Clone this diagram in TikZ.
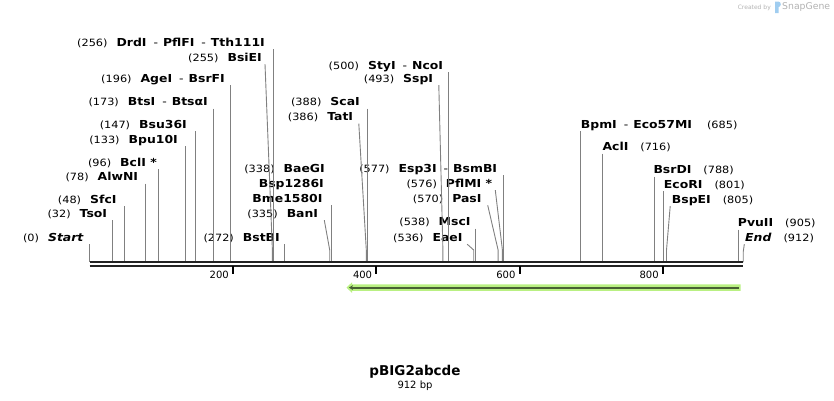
\documentclass[tikz,border=0pt]{standalone}
\usepackage{fontspec}
\setmainfont{DejaVu Sans}
\newfontfamily\labelfont{DejaVu Sans}[FakeStretch=1.13]
\usetikzlibrary{arrows.meta}

\definecolor{linegray}{RGB}{128,128,128}
\definecolor{barblack}{RGB}{34,34,34}
\definecolor{featlight}{RGB}{185,240,130}
\definecolor{featdark}{RGB}{72,96,52}
\definecolor{logogray}{RGB}{178,178,178}
\definecolor{logoblue}{RGB}{160,205,240}

\newcommand{\bpnum}[1]{{\mdseries\fontsize{10}{12}\selectfont(#1)}}
\newcommand{\enzsep}{\hspace{7pt}{\mdseries-}\hspace{5pt}}

\tikzset{
	enz/.style={font=\labelfont\fontsize{11}{13}\selectfont\bfseries, inner sep=0pt, text depth=3pt},
	enzl/.style={enz, anchor=base east},
	enzr/.style={enz, anchor=base west},
	cutline/.style={draw=linegray, line width=0.9pt},
	ticklabel/.style={font=\fontsize{10}{12}\selectfont, inner sep=0pt, anchor=east}
}

\begin{document}
\begin{tikzpicture}[x=1pt, y=-1pt]
	\useasboundingbox (0,0) rectangle (834,400);

	% cut sites on the backbone
	\coordinate (sStart) at (89.7,262);
	\coordinate (sTsoI) at (112.6,262);
	\coordinate (sSfcI) at (124.1,262);
	\coordinate (sAlwNI) at (145.6,262);
	\coordinate (sBclI) at (158.5,262);
	\coordinate (sBpuI) at (185.0,262);
	\coordinate (sBsuI) at (195.0,262);
	\coordinate (sBtsI) at (213.7,262);
	\coordinate (sAgeI) at (230.1,262);
	\coordinate (sBsiEI) at (272.4,262);
	\coordinate (sDrdI) at (273.1,262);
	\coordinate (sBstBI) at (284.6,262);
	\coordinate (sBanI) at (329.7,262);
	\coordinate (sBaeGI) at (331.9,262);
	\coordinate (sTatI) at (366.3,262);
	\coordinate (sScaI) at (367.7,262);
	\coordinate (sSspI) at (442.9,262);
	\coordinate (sStyI) at (448.0,262);
	\coordinate (sEaeI) at (473.7,262);
	\coordinate (sMscI) at (475.2,262);
	\coordinate (sPasI) at (498.1,262);
	\coordinate (sPflMI) at (502.4,262);
	\coordinate (sEsp3I) at (503.1,262);
	\coordinate (sBpmI) at (580.5,262);
	\coordinate (sAclI) at (602.7,262);
	\coordinate (sBsrDI) at (654.3,262);
	\coordinate (sEcoRI) at (663.6,262);
	\coordinate (sBspEI) at (666.5,262);
	\coordinate (sPvuII) at (738.1,262);
	\coordinate (sEnd) at (743.2,262);

	% labels, left of their lines
	\node[enzl] (lDrdI) at (265,46) {\bpnum{256}\hspace{9pt}DrdI\enzsep PflFI\enzsep Tth111I};
	\node[enzl] (lBsiEI) at (262,61) {\bpnum{255}\hspace{9pt}BsiEI};
	\node[enzl] (lAgeI) at (225,82) {\bpnum{196}\hspace{9pt}AgeI\enzsep BsrFI};
	\node[enzl] (lBtsI) at (208,105.5) {\bpnum{173}\hspace{9pt}BtsI\enzsep BtsαI};
	\node[enzl] (lBsuI) at (187,128) {\bpnum{147}\hspace{9pt}Bsu36I};
	\node[enzl] (lBpuI) at (178,143) {\bpnum{133}\hspace{9pt}Bpu10I};
	\node[enzl] (lBclI) at (157,166) {\bpnum{96}\hspace{9pt}BclI *};
	\node[enzl] (lAlwNI) at (138.3,180.5) {\bpnum{78}\hspace{9pt}AlwNI};
	\node[enzl] (lSfcI) at (116.7,203) {\bpnum{48}\hspace{9pt}SfcI};
	\node[enzl] (lTsoI) at (107.3,217) {\bpnum{32}\hspace{9pt}TsoI};
	\node[enzl] (lStart) at (84,241) {\bpnum{0}\hspace{9pt}\textit{Start}};
	\node[enzl] (lBstBI) at (280,241) {\bpnum{272}\hspace{9pt}BstBI};
	\node[enzl] (lBaeGI) at (325,172) {\bpnum{338}\hspace{9pt}BaeGI};
	\node[enzl] (lBsp) at (324,187) {Bsp1286I};
	\node[enzl] (lBme) at (322.7,202) {Bme1580I};
	\node[enzl] (lBanI) at (318.3,217) {\bpnum{335}\hspace{9pt}BanI};
	\node[enzl] (lStyI) at (443.3,69) {\bpnum{500}\hspace{9pt}StyI\enzsep NcoI};
	\node[enzl] (lSspI) at (433.3,82) {\bpnum{493}\hspace{9pt}SspI};
	\node[enzl] (lScaI) at (360,105.5) {\bpnum{388}\hspace{9pt}ScaI};
	\node[enzl] (lTatI) at (353.3,120.5) {\bpnum{386}\hspace{9pt}TatI};
	\node[enzl] (lEsp3I) at (497.3,172) {\bpnum{577}\hspace{9pt}Esp3I\enzsep BsmBI};
	\node[enzl] (lPflMI) at (492.3,187) {\bpnum{576}\hspace{9pt}PflMI *};
	\node[enzl] (lPasI) at (481.7,202) {\bpnum{570}\hspace{9pt}PasI};
	\node[enzl] (lMscI) at (470.7,225.5) {\bpnum{538}\hspace{9pt}MscI};
	\node[enzl] (lEaeI) at (462.7,241) {\bpnum{536}\hspace{9pt}EaeI};

	% labels, right of their lines
	\node[enzr] (lBpmI) at (580.7,128) {BpmI\enzsep Eco57MI\hspace{15pt}\bpnum{685}};
	\node[enzr] (lAclI) at (602.3,150.5) {AclI\hspace{12pt}\bpnum{716}};
	\node[enzr] (lBsrDI) at (653.3,173.5) {BsrDI\hspace{12pt}\bpnum{788}};
	\node[enzr] (lEcoRI) at (663.7,188) {EcoRI\hspace{12pt}\bpnum{801}};
	\node[enzr] (lBspEI) at (671.7,203) {BspEI\hspace{12pt}\bpnum{805}};
	\node[enzr] (lPvuII) at (737.7,226.5) {PvuII\hspace{12pt}\bpnum{905}};
	\node[enzr] (lEnd) at (745,241) {\textit{End}\hspace{12pt}\bpnum{912}};

	% straight lines
	\draw[cutline] (lDrdI.south -| sDrdI) -- (sDrdI);
	\draw[cutline] (lAgeI.south -| sAgeI) -- (sAgeI);
	\draw[cutline] (lBtsI.south -| sBtsI) -- (sBtsI);
	\draw[cutline] (lBsuI.south -| sBsuI) -- (sBsuI);
	\draw[cutline] (lBpuI.south -| sBpuI) -- (sBpuI);
	\draw[cutline] (lBclI.south -| sBclI) -- (sBclI);
	\draw[cutline] (lAlwNI.south -| sAlwNI) -- (sAlwNI);
	\draw[cutline] (lSfcI.south -| sSfcI) -- (sSfcI);
	\draw[cutline] (lTsoI.south -| sTsoI) -- (sTsoI);
	\draw[cutline] (lStart.south -| sStart) -- (sStart);
	\draw[cutline] (lBstBI.south -| sBstBI) -- (sBstBI);
	\draw[cutline] (lBme.south -| sBaeGI) -- (sBaeGI);
	\draw[cutline] (lStyI.south -| sStyI) -- (sStyI);
	\draw[cutline] (lScaI.south -| sScaI) -- (sScaI);
	\draw[cutline] (lEsp3I.south -| sEsp3I) -- (sEsp3I);
	\draw[cutline] (lMscI.south -| sMscI) -- (sMscI);
	\draw[cutline] (lBpmI.south -| sBpmI) -- (sBpmI);
	\draw[cutline] (lAclI.south -| sAclI) -- (sAclI);
	\draw[cutline] (lBsrDI.south -| sBsrDI) -- (sBsrDI);
	\draw[cutline] (lEcoRI.south -| sEcoRI) -- (sEcoRI);
	\draw[cutline] (lPvuII.south -| sPvuII) -- (sPvuII);

	% bent lines
	\draw[cutline] ([xshift=3pt]lBsiEI.south east) -- ([yshift=12pt]sBsiEI) -- (sBsiEI);
	\draw[cutline] ([xshift=6pt]lBanI.south east) -- ([yshift=12pt]sBanI) -- (sBanI);
	\draw[cutline] ([xshift=5.5pt]lSspI.south east) -- ([yshift=12pt]sSspI) -- (sSspI);
	\draw[cutline] ([xshift=5.5pt]lTatI.south east) -- ([yshift=12pt]sTatI) -- (sTatI);
	\draw[cutline] ([xshift=3pt]lPflMI.south east) -- ([yshift=12pt]sPflMI) -- (sPflMI);
	\draw[cutline] ([xshift=6pt]lPasI.south east) -- ([yshift=12pt]sPasI) -- (sPasI);
	\draw[cutline] ([xshift=4.5pt]lEaeI.south east) -- ([yshift=12pt]sEaeI) -- (sEaeI);
	\draw[cutline] ([xshift=-1.5pt]lBspEI.south west) -- ([yshift=12pt]sBspEI) -- (sBspEI);
	\draw[cutline] ([xshift=-0.7pt]lEnd.south west) -- ([yshift=10pt]sEnd) -- (sEnd);

	% backbone
	\draw[barblack, line width=2.8pt] (sStart) -- (sEnd);
	\draw[barblack, line width=1.8pt] ([yshift=-3.6pt]sStart) -- ([yshift=-3.6pt]sEnd);

	\foreach \t in {200,400,600,800} {
		\draw[black, line width=2pt] ({89.7+0.7165*\t},266) -- ({89.7+0.7165*\t},274);
		\node[ticklabel] (t\t) at ({89.7+0.7165*\t-4},275) {\t};
	}

	% feature
	\fill[featlight] (740.7,284.3) -- (352,284.3) -- (352,282.3) -- (346.5,287.6) -- (352,292.9) -- (352,290.9) -- (740.7,290.9) -- cycle;
	\draw[featdark, line width=1.8pt, -{Stealth[length=4pt, width=5pt]}] (738.7,287.6) -- (349,287.6);

	% name and size
	\node[font=\fontsize{13.5}{15}\selectfont\bfseries, inner sep=0pt, anchor=base] (title) at (415,375) {pBIG2abcde};
	\node[font=\fontsize{10}{12}\selectfont, inner sep=0pt, anchor=base] (size) at (415,388) {912 bp};

	% credit
	\node[font=\fontsize{6}{7}\selectfont, text=logogray, inner sep=0pt, anchor=east] (credit) at (771,7.5) {Created by};
	\fill[logoblue] (775,1.5) -- (778.5,1.5) .. controls (781.5,1.5) and (781.5,7) .. (778.5,7) -- (778.5,13) -- (775,13) -- cycle;
	\node[font=\fontsize{9.3}{10}\selectfont, text=logogray, inner sep=0pt, anchor=west] (snapgene) at (782,7.5) {SnapGene};
\end{tikzpicture}
\end{document}
